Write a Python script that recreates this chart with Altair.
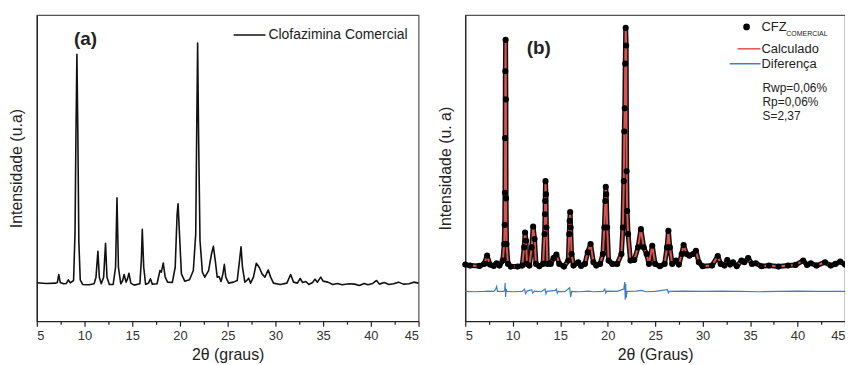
import altair as alt
import pandas as pd

FONT = "Liberation Sans"

# ---------------- panel (a): Clofazimina Comercial ----------------
SERIES_A = "Clofazimina Comercial"
two_theta_a = [5.0, 6.0, 7.0, 7.15, 7.3, 7.45, 7.8, 8.1, 8.3, 8.5, 8.85, 9.0, 9.1, 9.2, 9.3, 9.4, 9.55, 9.8,
               10.5, 11.0, 11.2, 11.4, 11.55, 11.75, 12.0, 12.2, 12.35, 12.6, 13.0, 13.25, 13.4, 13.55, 13.8,
               14.0, 14.15, 14.35, 14.5, 14.65, 14.85, 15.2, 15.8, 15.95, 16.05, 16.2, 16.4, 16.7, 16.9, 17.1,
               17.6, 17.9, 18.05, 18.25, 18.45, 18.7, 19.2, 19.5, 19.7, 19.8, 19.95, 20.15, 20.5, 21.0, 21.4,
               21.65, 21.75, 21.85, 21.95, 22.1, 22.35, 22.6, 23.0, 23.3, 23.5, 23.7, 23.9, 24.1, 24.3, 24.5,
               24.65, 24.8, 25.1, 25.6, 26.0, 26.2, 26.4, 26.55, 26.8, 27.0, 27.2, 27.4, 27.7, 28.0, 28.3, 28.6,
               28.9, 29.25, 29.5, 29.8, 30.5, 31.2, 31.6, 31.9, 32.3, 32.6, 32.85, 33.2, 33.5, 33.9, 34.15, 34.4,
               34.75, 35.0, 35.5, 36.0, 36.5, 37.0, 37.7, 38.3, 38.8, 39.3, 39.7, 40.2, 40.6, 40.9, 41.4, 41.9,
               42.4, 42.9, 43.4, 44.0, 44.5, 45.0]
intensity_a = [116, 114, 115, 117, 141, 117, 113, 114, 125, 116, 123, 263, 563, 806, 563, 243, 125, 111,
               110, 113, 133, 211, 133, 113, 133, 235, 133, 111, 111, 163, 373, 163, 113,
               123, 141, 118, 128, 145, 115, 109, 113, 183, 278, 163, 111, 115, 128, 112,
               113, 153, 148, 176, 133, 118, 117, 163, 323, 355, 263, 143, 121, 125, 153,
               263, 563, 840, 563, 243, 148, 133, 153, 203, 226, 183, 133, 135, 120, 143,
               172, 133, 115, 118, 123, 173, 225, 163, 118, 123, 130, 115, 133, 175, 163, 143,
               133, 155, 133, 115, 111, 115, 141, 118, 115, 129, 117, 120, 111, 117, 127, 118,
               133, 121, 118, 111, 114, 110, 113, 112, 108, 114, 110, 114, 123, 112, 117, 111,
               113, 118, 112, 113, 118, 115]

# ---------------- panel (b): Rietveld refinement ----------------
two_theta_b = [5.0, 5.5, 6.5, 7.0, 7.3, 7.6, 8.0, 8.3, 8.6, 8.95, 9.1, 9.15, 9.18, 9.2, 9.22, 9.25, 9.28, 9.3,
               9.35, 9.5, 9.8, 10.5, 11.0, 11.2, 11.3, 11.4, 11.5, 11.75, 12.0, 12.15, 12.3, 12.45, 12.8, 13.2,
               13.35, 13.4, 13.42, 13.45, 13.5, 13.55, 13.65, 14.0, 14.3, 14.6, 14.9, 15.4, 15.85, 15.95, 16.0,
               16.05, 16.1, 16.2, 16.4, 16.9, 17.2, 17.6, 17.9, 18.2, 18.5, 18.8, 19.2, 19.5, 19.65, 19.75, 19.8,
               19.85, 19.95, 20.1, 20.5, 21.0, 21.45, 21.6, 21.7, 21.75, 21.8, 21.85, 21.9, 21.95, 22.0, 22.05,
               22.15, 22.4, 22.8, 23.2, 23.5, 23.8, 24.1, 24.35, 24.7, 25.0, 25.5, 26.0, 26.25, 26.4, 26.55,
               26.8, 27.2, 27.5, 27.8, 28.0, 28.3, 28.6, 29.0, 29.3, 29.6, 30.0, 31.0, 31.6, 31.9, 32.3, 32.6,
               32.9, 33.2, 33.6, 34.1, 34.4, 34.8, 35.2, 35.6, 36.2, 37.0, 38.0, 39.0, 39.8, 40.6, 41.0, 41.4,
               42.0, 42.9, 43.5, 44.0, 44.5, 45.0]
observed_b = [171, 168, 167, 173, 198, 171, 167, 175, 168, 183, 233, 291, 388, 553, 755, 850, 670, 371,
              233, 173, 165, 165, 168, 223, 268, 243, 173, 168, 223, 286, 248, 173, 166, 173,
              263, 323, 363, 423, 383, 283, 173, 173, 191, 201, 173, 165, 183, 263, 303,
              330, 283, 203, 168, 178, 167, 173, 208, 233, 178, 168, 173, 203, 283, 363, 406,
              383, 283, 183, 173, 173, 203, 283, 423, 573, 643, 778, 886, 833, 453, 333,
              263, 183, 185, 223, 278, 223, 203, 173, 228, 173, 166, 173, 223, 273, 223,
              173, 183, 171, 203, 230, 203, 198, 203, 213, 178, 166, 168, 197, 173, 168, 185,
              171, 178, 166, 183, 178, 191, 173, 175, 166, 168, 165, 168, 170, 183, 170, 175,
              168, 178, 168, 173, 180, 171]
calculated_b = observed_b

diff_x = [5.0, 6.0, 7.0, 7.5, 8.0, 8.2, 8.3, 8.4, 9.0, 9.15, 9.2, 9.25, 9.3, 9.4, 10.0, 11.0, 11.25, 11.35,
          11.5, 12.0, 12.1, 12.3, 13.0, 13.4, 13.5, 13.6, 14.5, 14.6, 14.7, 14.8, 15.5, 16.0, 16.1, 16.2,
          17.0, 18.0, 18.5, 19.5, 19.7, 19.8, 19.9, 21.0, 21.7, 21.8, 21.85, 21.9, 21.95, 22.05, 23.0, 23.6,
          24.0, 25.0, 26.3, 26.4, 26.5, 28.0, 30.0, 32.0, 34.0, 36.0, 38.0, 40.0, 42.0, 45.0]
diff_y = [90, 89, 90, 91, 90, 97, 105, 90, 90, 93, 115, 73, 97, 90, 89, 90, 97, 83,
          91, 95, 85, 91, 89, 97, 83, 90, 93, 97, 85, 90, 89, 101, 73, 90,
          89, 91, 89, 90, 97, 85, 91, 90, 97, 118, 65, 113, 71, 90, 91, 93,
          89, 90, 95, 85, 90, 91, 90, 91, 90, 89, 90, 91, 90, 90]

X_TICKS = [5, 7.5, 10, 12.5, 15, 17.5, 20, 22.5, 25, 27.5, 30, 32.5, 35, 37.5, 40, 42.5, 45]

RED = "#d9534f"
BLUE = "#3b80c2"


def x_enc(title):
    return alt.X(
        "x:Q",
        scale=alt.Scale(domain=[5, 45], nice=False, zero=False),
        axis=alt.Axis(
            title=title,
            values=X_TICKS,
            labelExpr="datum.value % 5 === 0 ? datum.label : ''",
            tickSize={"condition": {"test": "datum.value % 5 === 0", "value": 5}, "value": 3},
            labelPadding=3,
            titlePadding=5,
            grid=False,
        ),
    )


def y_enc(title):
    return alt.Y(
        "y:Q",
        scale=alt.Scale(domain=[0, 925], nice=False, zero=False),
        axis=alt.Axis(title=title, ticks=False, labels=False, grid=False, titlePadding=12),
    )


def text_at(txt, px, py, size=13, weight="normal", align="left", baseline="middle"):
    return alt.Chart(pd.DataFrame({"t": [txt]})).mark_text(
        font=FONT, fontSize=size, fontWeight=weight, align=align, baseline=baseline, color="#222"
    ).encode(x=alt.value(px), y=alt.value(py), text="t:N")


one = pd.DataFrame({"k": [0]})

# panel (a)
df_a = pd.DataFrame({"x": two_theta_a, "y": intensity_a})
line_a = alt.Chart(df_a).mark_line(strokeWidth=1.6, strokeJoin="round", color="#111111").encode(
    x=x_enc("2θ (graus)"),
    y=y_enc("Intensidade (u.a)"),
)
leg_a = alt.Chart(one).mark_rule(color="#111111", strokeWidth=1.5).encode(
    x=alt.value(198), x2=alt.value(230), y=alt.value(20)
)
panel_a = alt.layer(
    line_a, leg_a,
    text_at(SERIES_A, 233, 20, size=14),
    text_at("(a)", 49, 24, size=19, weight="bold", align="center"),
).properties(width=384, height=308)

# panel (b)
df_obs = pd.DataFrame({"x": two_theta_b, "y": observed_b})
df_calc = pd.DataFrame({"x": two_theta_b, "y": calculated_b})
df_diff = pd.DataFrame({"x": diff_x, "y": diff_y})

xb = x_enc("2θ (Graus)")
yb = y_enc("Intensidade (u. a)")
obs_band = alt.Chart(df_obs).mark_line(color="#111111", strokeWidth=5, strokeJoin="round").encode(x=xb, y=yb)
calc_line = alt.Chart(df_calc).mark_line(color=RED, strokeWidth=2, strokeJoin="round").encode(x=xb, y=yb)
obs_pts = alt.Chart(df_obs).mark_circle(color="#000000", size=38, opacity=1).encode(x=xb, y=yb)
diff_line = alt.Chart(df_diff).mark_line(color=BLUE, strokeWidth=1.2).encode(x=xb, y=yb)

leg_dot = alt.Chart(one).mark_circle(color="#000000", size=45, opacity=1).encode(x=alt.value(283), y=alt.value(12))
leg_red = alt.Chart(one).mark_rule(color=RED, strokeWidth=1.5).encode(x=alt.value(274), x2=alt.value(297), y=alt.value(34))
leg_blue = alt.Chart(one).mark_rule(color=BLUE, strokeWidth=1.5).encode(x=alt.value(266), x2=alt.value(297), y=alt.value(49))

panel_b = alt.layer(
    obs_band, calc_line, obs_pts, diff_line,
    leg_dot, leg_red, leg_blue,
    text_at("CFZ", 298, 12, size=13),
    text_at("COMERCIAL", 323, 19, size=7),
    text_at("Calculado", 298, 34, size=13),
    text_at("Diferença", 298, 49, size=13),
    text_at("Rwp=0,06%", 299, 73, size=12),
    text_at("Rp=0,06%", 299, 88, size=12),
    text_at("S=2,37", 299, 102, size=12),
    text_at("(b)", 74, 33, size=19, weight="bold", align="center"),
).properties(width=382, height=308)

chart = (
    alt.hconcat(panel_a, panel_b, spacing=16)
    .properties(padding={"left": 0, "top": 5, "right": -4, "bottom": 0})
    .configure_view(stroke="#555555", strokeWidth=1.2)
    .configure_axis(
        labelFont=FONT, titleFont=FONT, labelFontSize=13, titleFontSize=16,
        labelColor="#333333", titleColor="#222222", domainColor="#222222", tickColor="#222222",
        domainWidth=1.3, tickWidth=1.2, titleFontWeight="normal",
    )
)

chart.save("out.html", embed_options={"renderer": "svg", "actions": False})
